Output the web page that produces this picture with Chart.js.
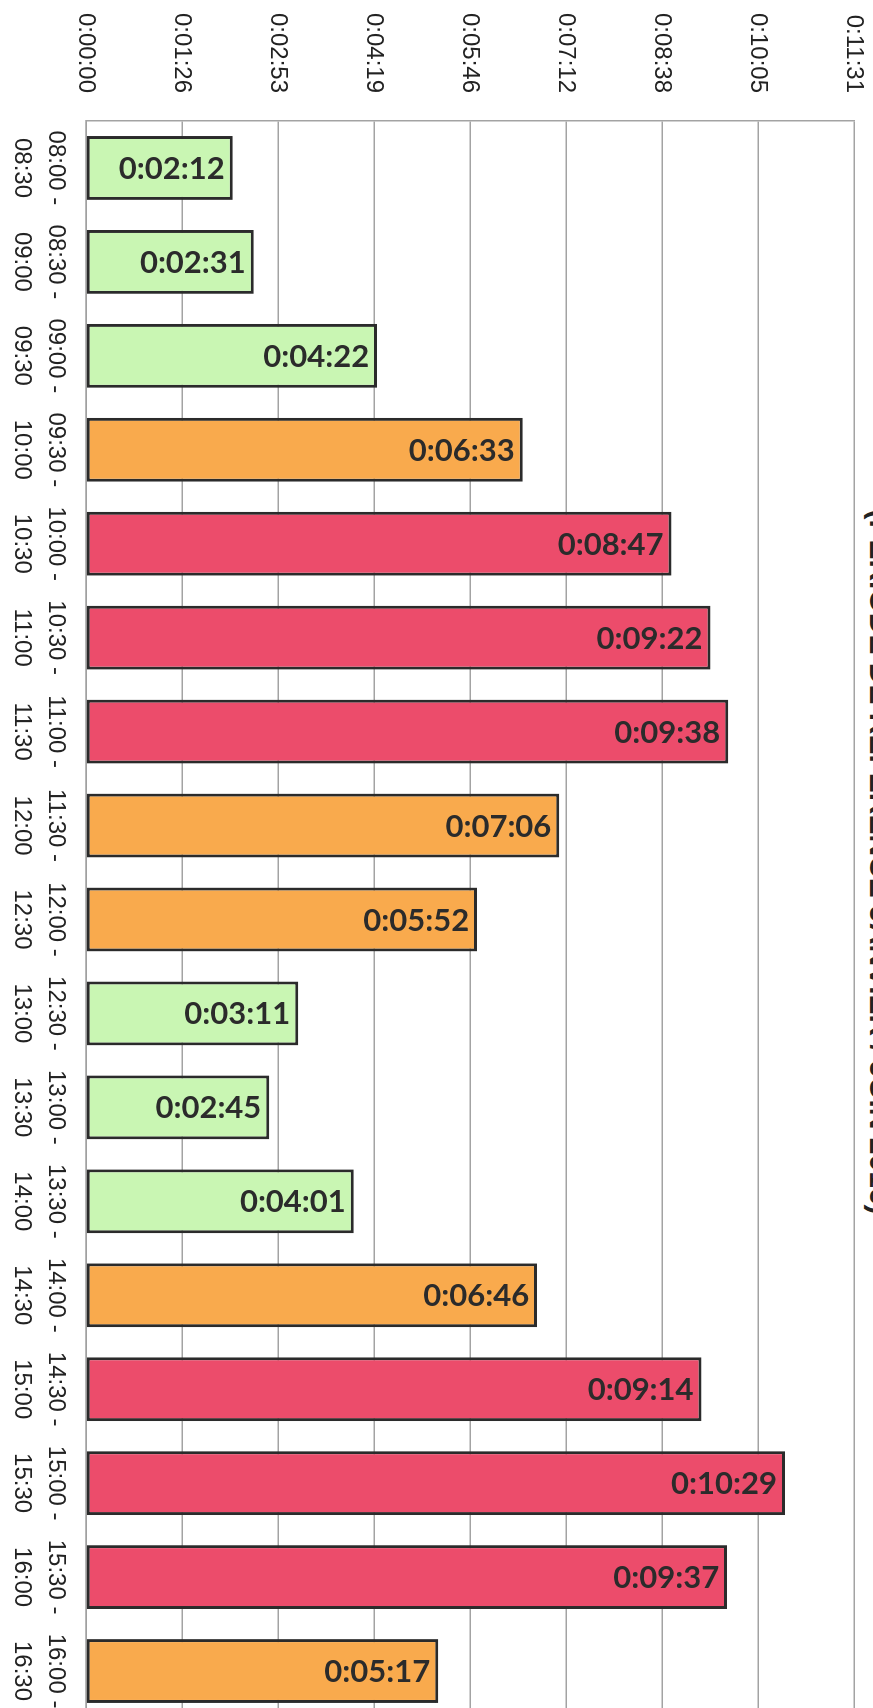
<!DOCTYPE html>
<html lang="fr">
<head>
<meta charset="UTF-8">
<title>Durée par tranche horaire</title>
<script src="https://cdn.jsdelivr.net/npm/chart.js"></script>
<style>
    html, body { margin: 0; padding: 0; background: #fff; width: 873px; height: 1708px; overflow: hidden; }
    /* the scanned chart is turned a quarter turn clockwise: draw it upright, then rotate the sheet */
    #sheet { position: absolute; left: 0; top: 0; width: 1740px; height: 913px; transform-origin: 0 0; transform: translate(913px, 0) rotate(90deg); background: #fff; }
    #title { position: absolute; left: 0; top: 18px; width: 1724px; text-align: center; font: bold 30px "Liberation Sans", Arial, sans-serif; line-height: 30px; color: #222; white-space: nowrap; }
    canvas { position: absolute; left: 0; top: 0; }
</style>
</head>
<body>
<div id="sheet">
    <div id="title">(PÉRIODE DE RÉFÉRENCE JANVIER / JUIN 2016)</div>
    <canvas id="waitChart" width="1740" height="913"></canvas>
</div>

<script>
// half-hour slots
const slots = [
    ['08:00 -', '08:30'], ['08:30 -', '09:00'], ['09:00 -', '09:30'], ['09:30 -', '10:00'],
    ['10:00 -', '10:30'], ['10:30 -', '11:00'], ['11:00 -', '11:30'], ['11:30 -', '12:00'],
    ['12:00 -', '12:30'], ['12:30 -', '13:00'], ['13:00 -', '13:30'], ['13:30 -', '14:00'],
    ['14:00 -', '14:30'], ['14:30 -', '15:00'], ['15:00 -', '15:30'], ['15:30 -', '16:00'],
    ['16:00 -', '16:30']
];

// average duration per slot (h:mm:ss)
const durations = [
    '0:02:12', '0:02:31', '0:04:22', '0:06:33', '0:08:47', '0:09:22', '0:09:38', '0:07:06',
    '0:05:52', '0:03:11', '0:02:45', '0:04:01', '0:06:46', '0:09:14', '0:10:29', '0:09:37',
    '0:05:17'
];

// value axis labels, Excel steps of 0.001 day
const tickLabels = ['0:00:00', '0:01:26', '0:02:53', '0:04:19', '0:05:46', '0:07:12', '0:08:38', '0:10:05', '0:11:31'];
const axisMax = 0.008 * 86400;

// colour bands: under 5 min green, under 8 min orange, above red
const limits = [300, 480];
const bandColors = ['#c9f6b3', '#f9aa4d', '#ec4c6b'];

function toSeconds(t) {
    const p = t.split(':').map(Number);
    return p[0] * 3600 + p[1] * 60 + p[2];
}

const seconds = durations.map(toSeconds);
const colors = seconds.map(s => s < limits[0] ? bandColors[0] : (s < limits[1] ? bandColors[1] : bandColors[2]));

// writes each duration inside the end of its bar, turned like the scan
const barLabels = {
    id: 'barLabels',
    afterDatasetsDraw(chart) {
        const ctx = chart.ctx;
        const meta = chart.getDatasetMeta(0);
        ctx.save();
        ctx.font = 'bold 31px Lato, "Liberation Sans", sans-serif';
        ctx.fillStyle = '#2b2b2b';
        ctx.textAlign = 'right';
        ctx.textBaseline = 'middle';
        meta.data.forEach((bar, i) => {
            ctx.save();
            ctx.translate(bar.x, bar.y + 8);
            ctx.rotate(-Math.PI / 2);
            ctx.fillText(durations[i], 0, 1);
            ctx.restore();
        });
        ctx.restore();
    }
};

new Chart(document.getElementById('waitChart'), {
    type: 'bar',
    data: {
        labels: slots,
        datasets: [{
            data: seconds,
            backgroundColor: colors,
            borderColor: '#2b2b2b',
            borderWidth: 3,
            borderSkipped: false,
            categoryPercentage: 1,
            barPercentage: 0.68
        }]
    },
    options: {
        responsive: false,
        animation: false,
        layout: { padding: { top: 59, right: 22, left: 0, bottom: 0 } },
        plugins: { legend: { display: false }, tooltip: { enabled: false } },
        scales: {
            x: {
                grid: { display: false, drawTicks: false },
                border: { display: true, color: '#a0a0a0', width: 1.5 },
                ticks: {
                    color: '#222', padding: 14, maxRotation: 0, autoSkip: false,
                    font: { family: '"Liberation Sans", Arial, sans-serif', size: 24, lineHeight: 1.4 }
                },
                afterFit(scale) { scale.height = 86; }
            },
            y: {
                min: 0,
                max: axisMax,
                grid: { color: '#a3a3a3', lineWidth: 1.5, drawTicks: false },
                border: { display: true, color: '#a3a3a3', width: 1.5 },
                ticks: {
                    stepSize: axisMax / 8,
                    color: '#222', padding: 28,
                    font: { family: '"Liberation Sans", Arial, sans-serif', size: 24 },
                    callback: (v, i) => tickLabels[i]
                },
                afterFit(scale) { scale.width = 121; }
            }
        }
    },
    plugins: [barLabels]
});
</script>
</body>
</html>
